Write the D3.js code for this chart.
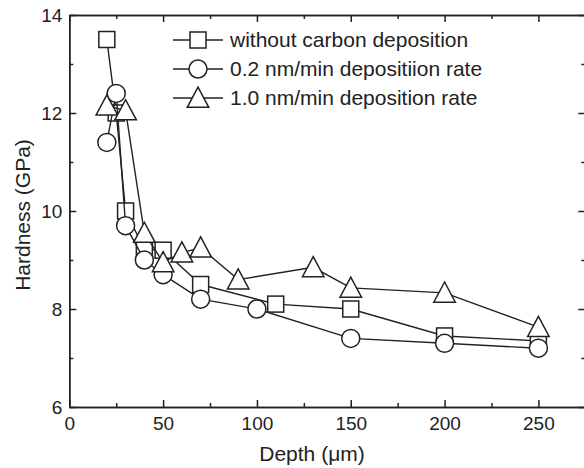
<!DOCTYPE html>
<html>
<head>
<meta charset="utf-8">
<style>
  body { margin: 0; background: #fff; }
  text { font-family: "Liberation Sans", Arial, sans-serif; fill: #222; }
  .tick text { font-size: 19px; }
  .axis path, .axis line { stroke: #222; stroke-width: 1.5; }
  .title { font-size: 21px; }
  .legend text { font-size: 21px; }
</style>
<script src="https://d3js.org/d3.v7.min.js"></script>
</head>
<body>
<script>
// data
var seriesNames = ["without carbon deposition", "0.2 nm/min depositiion rate", "1.0 nm/min deposition rate"];
var depthSq  = [20, 25, 30, 40, 50, 70, 110, 150, 200, 250];
var hardSq   = [13.5, 12.0, 10.0, 9.22, 9.2, 8.5, 8.1, 8.0, 7.45, 7.35];
var depthCir = [20, 25, 30, 40, 50, 70, 100, 150, 200, 250];
var hardCir  = [11.4, 12.4, 9.7, 9.0, 8.7, 8.2, 8.0, 7.4, 7.3, 7.2];
var depthTri = [20, 30, 40, 50, 60, 70, 90, 130, 150, 200, 250];
var hardTri  = [12.15, 12.05, 9.55, 8.95, 9.15, 9.25, 8.6, 8.85, 8.43, 8.33, 7.63];
var xTicks = [0, 50, 100, 150, 200, 250];
var xMinor = [25, 75, 125, 175, 225, 275];
var yTicks = [6, 8, 10, 12, 14];
var yMinor = [7, 9, 11, 13];

var W = 584, H = 468;
var x = d3.scaleLinear().domain([0, 275]).range([69.3, 585.3]);
var y = d3.scaleLinear().domain([6, 14]).range([407, 15]);

var svg = d3.select("body").append("svg")
    .attr("width", W).attr("height", H);

function addAxis(gen, transform, vals, size, labels) {
  var g = svg.append("g").attr("class", "axis")
      .attr("transform", transform)
      .call(gen.tickValues(vals).tickSize(size).tickSizeOuter(0)
               .tickFormat(labels ? d3.format("d") : ""));
  return g;
}
// major + minor ticks on all four sides, pointing inward
addAxis(d3.axisBottom(x).tickPadding(10), "translate(0," + y(6) + ")", xTicks, -7, true);
addAxis(d3.axisBottom(x), "translate(0," + y(6) + ")", xMinor, -4, false);
addAxis(d3.axisTop(x), "translate(0," + y(14) + ")", xTicks, -7, false);
addAxis(d3.axisTop(x), "translate(0," + y(14) + ")", xMinor, -4, false);
addAxis(d3.axisLeft(y).tickPadding(7), "translate(" + x(0) + ",0)", yTicks, -7, true);
addAxis(d3.axisLeft(y), "translate(" + x(0) + ",0)", yMinor, -4, false);
addAxis(d3.axisRight(y), "translate(" + x(275) + ",0)", yTicks, -7, false);
addAxis(d3.axisRight(y), "translate(" + x(275) + ",0)", yMinor, -4, false);

svg.append("text").attr("class", "title")
   .attr("x", 312).attr("y", 461)
   .attr("text-anchor", "middle").text("Depth (μm)");
svg.append("text").attr("class", "title")
   .attr("transform", "translate(30,215) rotate(-90)")
   .attr("text-anchor", "middle").text("Hardness (GPa)");

var sqSize = 16, cirR = 9, triSide = 21.5;
var triH = triSide * Math.sqrt(3) / 2;
function drawMarker(g, kind, cx, cy) {
  var m;
  if (kind == "square") {
    m = g.append("rect").attr("x", cx - sqSize / 2).attr("y", cy - sqSize / 2)
         .attr("width", sqSize).attr("height", sqSize);
  } else if (kind == "circle") {
    m = g.append("circle").attr("cx", cx).attr("cy", cy).attr("r", cirR);
  } else {
    var pts = [[cx, cy - triH / 2 - 1.5], [cx - triSide / 2, cy + triH / 2], [cx + triSide / 2, cy + triH / 2]];
    m = g.append("polygon").attr("points", pts.map(function(p) { return p.join(","); }).join(" "));
  }
  m.attr("fill", "#fff").attr("stroke", "#222").attr("stroke-width", 1.5);
}

var series = [
  {kind: "square", xs: depthSq, ys: hardSq},
  {kind: "circle", xs: depthCir, ys: hardCir},
  {kind: "triangle", xs: depthTri, ys: hardTri}
];
var line = d3.line().x(function(d) { return x(d[0]); }).y(function(d) { return y(d[1]); });

series.forEach(function(s) {
  var pts = d3.zip(s.xs, s.ys);
  var g = svg.append("g");
  g.append("path").attr("d", line(pts))
   .attr("fill", "none").attr("stroke", "#222").attr("stroke-width", 1.4);
  pts.forEach(function(p) { drawMarker(g, s.kind, x(p[0]), y(p[1])); });
});

// legend
var legend = svg.append("g").attr("class", "legend");
var rowY = [40, 69, 98];
series.forEach(function(s, i) {
  var g = legend.append("g");
  g.append("line").attr("x1", 173).attr("x2", 223).attr("y1", rowY[i]).attr("y2", rowY[i])
   .attr("stroke", "#222").attr("stroke-width", 1.4);
  drawMarker(g, s.kind, 198, rowY[i]);
  g.append("text").attr("x", 230).attr("y", rowY[i]).attr("dy", "0.35em").text(seriesNames[i]);
});
</script>
</body>
</html>
